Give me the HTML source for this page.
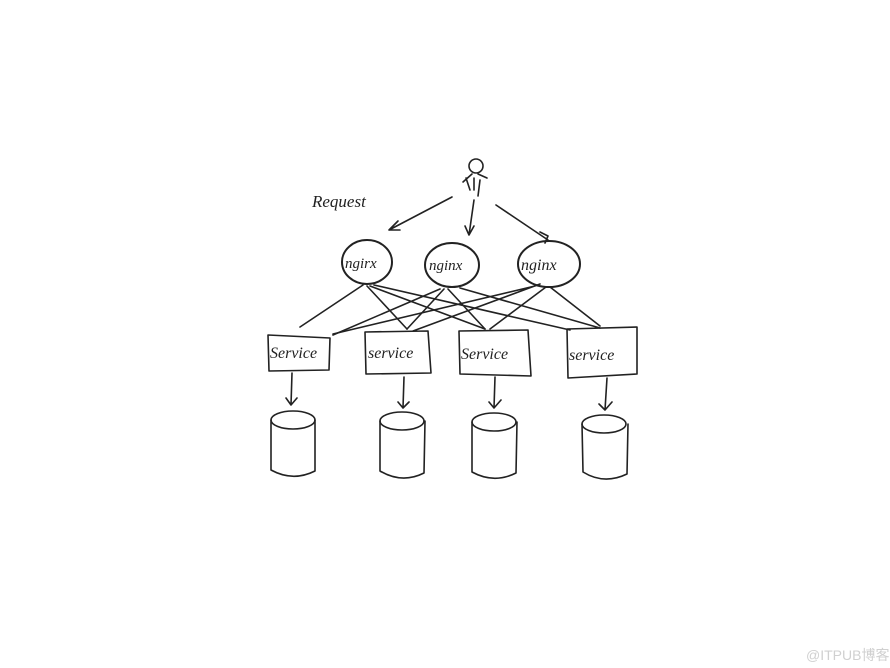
<!DOCTYPE html>
<html><head><meta charset="utf-8"><style>
html,body{margin:0;padding:0;background:#fff;}
svg{display:block}
text{font-family:"Liberation Serif",serif;font-style:italic;fill:#222}
</style></head><body>
<svg width="890" height="668" viewBox="0 0 890 668" xmlns="http://www.w3.org/2000/svg">
<g fill="none" stroke="#222" stroke-width="1.6" stroke-linecap="round" stroke-linejoin="round">
<circle cx="476" cy="166" r="7"/>
<path d="M472 174 L463 182 M466 178 L470 190 M478 174 L487 178 M474 178 L474 190 M480 180 L478 196"/>
<path d="M452 197 L389 230 M389 230 L398 221 M389 230 L400 230"/>
<path d="M474 200 L469 235 M469 235 L465 226 M469 235 L474 226"/>
<path d="M496 205 L548 240 M540 232 L548 236 L545 243"/>
<ellipse cx="367" cy="262" rx="25" ry="22" stroke-width="2"/>
<ellipse cx="452" cy="265" rx="27" ry="22" stroke-width="2"/>
<ellipse cx="549" cy="264" rx="31" ry="23" stroke-width="2"/>
<path d="M363 285 L300 327 M367 286 L407 329 M370 286 L485 329 M374 285 L570 330"/>
<path d="M440 289 L333 335 M444 289 L407 329 M448 289 L485 329 M460 288 L600 328"/>
<path d="M535 286 L333 334 M540 284 L413 331 M546 287 L490 329 M550 287 L600 326"/>
<path d="M268 335 L330 338 L329 370 L269 371 Z"/>
<path d="M365 332 L428 331 L431 373 L366 374 Z"/>
<path d="M459 331 L528 330 L531 376 L460 374 Z"/>
<path d="M567 329 L637 327 L637 374 L568 378 Z"/>
<path d="M292 373 L291 405 M291 405 L286 398 M291 405 L297 398"/>
<path d="M404 377 L403 408 M403 408 L398 402 M403 408 L409 402"/>
<path d="M495 377 L494 408 M494 408 L489 402 M494 408 L501 400"/>
<path d="M607 378 L605 410 M605 410 L599 404 M605 410 L612 402"/>
<g><ellipse cx="293" cy="420" rx="22" ry="9"/><path d="M271 420 L271 470 Q293 482 315 471 L315 420"/></g>
<g><ellipse cx="402" cy="421" rx="22" ry="9"/><path d="M380 421 L380 471 Q402 484 424 473 L425 421"/></g>
<g><ellipse cx="494" cy="422" rx="22" ry="9"/><path d="M472 422 L472 472 Q494 484 516 473 L517 422"/></g>
<g><ellipse cx="604" cy="424" rx="22" ry="9"/><path d="M582 424 L583 472 Q604 485 627 474 L628 424"/></g>
</g>
<text x="312" y="207" font-size="17">Request</text>
<text x="345" y="268" font-size="15">ngirx</text>
<text x="429" y="270" font-size="15">nginx</text>
<text x="521" y="270" font-size="16">nginx</text>
<text x="270" y="358" font-size="16">Service</text>
<text x="368" y="358" font-size="16">service</text>
<text x="461" y="359" font-size="16">Service</text>
<text x="569" y="360" font-size="16">service</text>
<text x="806" y="660" font-size="14" style="font-family:'Liberation Sans','Noto Sans CJK SC',sans-serif;font-style:normal;fill:#d0d0d0">@ITPUB博客</text>
</svg>
</body></html>
